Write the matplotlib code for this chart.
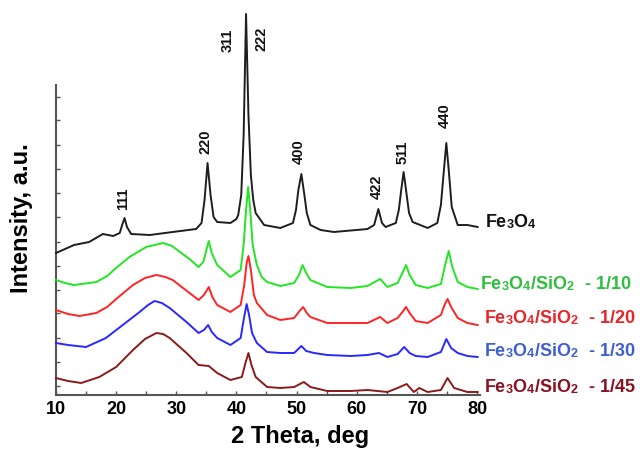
import matplotlib
matplotlib.use("Agg")
import matplotlib.pyplot as plt
try:
    import matplotlib._mathtext as _mt
    _mt.FontConstantsBase.sub1 = 0.12
    _mt.FontConstantsBase.sub2 = 0.15
except Exception:
    pass

plt.rcParams['font.family'] = ['Liberation Sans', 'DejaVu Sans']
plt.rcParams['font.weight'] = 'bold'
plt.rcParams['mathtext.fontset'] = 'custom'
plt.rcParams['mathtext.rm'] = 'Liberation Sans:bold'
plt.rcParams['mathtext.bf'] = 'Liberation Sans:bold'
plt.rcParams['mathtext.it'] = 'Liberation Sans:bold'
plt.rcParams['mathtext.default'] = 'bf'

# ---- data (2theta in deg, intensity in a.u., offset traces) ----
fe3o4_x = [10, 11.5, 13, 15.5, 17.8, 19.5, 20.6, 21.0, 21.4, 21.8, 22.5, 25.6, 29.4, 33.3,
           34.2, 34.7, 35.2, 35.7, 36.2, 36.8, 39.0, 40.0, 40.3, 40.8, 41.2, 41.6, 42.0, 42.4,
           42.8, 43.2, 44.6, 47.3, 49.4, 49.9, 50.3, 50.8, 51.3, 51.7, 52.3, 54.0, 56.2, 61.8,
           62.9, 63.6, 64.2, 64.8, 66.5, 67.0, 67.4, 67.8, 68.2, 68.7, 69.3, 71.8, 73.4, 74.0,
           74.5, 74.9, 75.3, 75.8, 76.8, 78.4, 80.1]
fe3o4_y = [142, 146, 150, 153, 161, 159, 162, 170, 177, 168, 161, 160, 163, 166,
           172, 195, 232, 200, 178, 173, 172, 176, 180, 200, 260, 381, 280, 220,
           195, 182, 170, 167, 172, 185, 205, 221, 200, 182, 170, 165, 163, 166,
           170, 186, 172, 168, 172, 185, 205, 223, 205, 182, 173, 167, 172, 190,
           225, 252, 225, 188, 170, 170, 168]

s10_x = [10, 11.5, 13, 16.7, 18.5, 20, 22.2, 25, 27.8, 29.3, 30.6, 32.2, 33.7, 34.5, 35.0,
         35.4, 35.9, 36.8, 39.0, 40.7, 41.2, 41.6, 41.95, 42.3, 42.7, 43.4, 44.2, 45.1, 47.3,
         49.6, 50.4, 51.0, 51.6, 52.3, 55.1, 59.0, 61.8, 63.9, 65.1, 66.8, 67.6, 68.2, 68.8,
         69.8, 71.8, 74.0, 74.7, 75.3, 75.9, 76.8, 78.4, 80.1]
s10_y = [115, 112, 110, 113, 119, 127, 138, 148, 152, 149, 143, 136, 128, 133, 145,
         154, 142, 130, 118, 125, 150, 185, 208, 185, 150, 130, 118, 113, 109,
         112, 120, 130, 122, 115, 108, 107, 109, 116, 108, 112, 122, 130, 120,
         110, 107, 111, 130, 144, 128, 113, 108, 106]

s20_x = [10, 12, 13.9, 16.7, 18.5, 20, 22.8, 24.8, 26.7, 28.2, 29.4, 32.2, 33.7, 34.6, 35.4,
         36.0, 36.8, 39.0, 40.7, 41.3, 41.7, 42.0, 42.4, 42.9, 43.4, 45.1, 47.3, 49.6, 50.5,
         51.1, 51.7, 52.3, 55.1, 59.0, 61.8, 63.9, 65.1, 66.8, 67.6, 68.2, 68.8, 69.8, 71.8,
         74.0, 74.6, 75.1, 75.7, 76.8, 78.4, 80.1]
s20_y = [85, 81, 79, 82, 88, 96, 110, 117, 120, 118, 115, 102, 95, 100, 108,
         98, 90, 83, 90, 110, 132, 139, 125, 100, 92, 80, 75, 77, 84,
         88, 82, 78, 72, 72, 72, 78, 72, 77, 83, 88, 82, 74, 72,
         80, 90, 96, 88, 77, 72, 70]

s30_x = [10, 12, 15, 18.3, 21.1, 23.9, 25.3, 26.4, 27.6, 28.9, 31.7, 33.7, 34.6, 35.3, 35.9,
         36.8, 39.0, 40.7, 41.2, 41.7, 42.1, 42.6, 43.4, 45.1, 47.3, 49.6, 50.8, 51.6, 52.9,
         55.1, 59.0, 61.8, 63.7, 65.1, 66.8, 67.9, 68.8, 69.8, 71.8, 74.0, 74.9, 75.7, 76.8,
         78.4, 80.1]
s30_y = [52, 50, 48, 57, 70, 83, 90, 94, 92, 87, 73, 62, 65, 70, 63,
         57, 50, 57, 75, 91, 80, 62, 52, 43, 42, 42, 49, 44, 42,
         40, 39, 40, 42, 38, 41, 48, 42, 39, 38, 43, 56, 47, 42,
         39, 38]

s45_x = [10, 12, 14.2, 17.2, 20, 22.8, 24.8, 26.7, 27.8, 28.9, 31.7, 33.7, 35.4, 36.8, 39.0,
         40.9, 41.5, 42.0, 42.5, 43.2, 45.1, 47.3, 49.6, 51.2, 52.3, 55.1, 59.0, 61.8, 65.1,
         66.8, 68.3, 69.5, 70.4, 71.8, 74.0, 75.1, 76.2, 78.4, 80.1]
s45_y = [17, 14, 12, 18, 28, 45, 56, 62, 61, 57, 42, 30, 29, 22, 15,
         18, 32, 42, 30, 18, 8, 7, 8, 13, 8, 4, 4, 5, 3,
         7, 11, 3, 7, 3, 5, 17, 7, 3, 3]

series_labels = [r"Fe$_3$O$_4$", r"Fe$_3$O$_4$/SiO$_2$  - 1/10", r"Fe$_3$O$_4$/SiO$_2$  - 1/20",
                 r"Fe$_3$O$_4$/SiO$_2$  - 1/30", r"Fe$_3$O$_4$/SiO$_2$  - 1/45"]

peak_labels = ["111", "220", "311", "222", "400", "422", "511", "440"]
peak_label_x = [21.1, 34.9, 38.6, 44.25, 50.4, 63.4, 67.7, 74.7]
peak_label_y = [196, 253, 355, 356, 243, 208, 243, 279]

xticks_major = [10, 20, 30, 40, 50, 60, 70, 80]
xticks_minor = [15, 25, 35, 45, 55, 65, 75]
yticks = [9, 33, 57, 82, 105, 129, 153, 178, 202, 226, 250, 275, 298]

# ---- styling ----
line_colors = ['#1e1e1e', '#22e622', '#ff2424', '#2828ff', '#8b1a1a']
text_colors = ['#111111', '#2fbf3f', '#e8262a', '#3f5fd0', '#8b1020']
label_x = [81.3, 80.5, 81.2, 81.2, 81.2]
label_y = [167, 105, 71, 38, 2]

fig = plt.figure(figsize=(6.4, 4.5), dpi=100)
ax = fig.add_axes([56/640, 1-395/450, (480-56)/640, 390/450])

xs = [fe3o4_x, s10_x, s20_x, s30_x, s45_x]
ys = [fe3o4_y, s10_y, s20_y, s30_y, s45_y]
for x, y, c in zip(xs, ys, line_colors):
    ax.plot(x, y, color=c, lw=1.4, clip_on=False, zorder=3)

for lab, lx, ly, c in zip(series_labels, label_x, label_y, text_colors):
    ax.text(lx, ly, lab, color=c, fontsize=13, fontweight='bold', ha='left', va='baseline',
            clip_on=False)

for lab, px, py in zip(peak_labels, peak_label_x, peak_label_y):
    ax.text(px, py, lab, rotation=90, fontsize=10.5, fontweight='bold', ha='center',
            va='center', color='#111111')

ax.set_xlim(10, 80.5)
ax.set_ylim(0, 390)
for s in ['top', 'right']:
    ax.spines[s].set_visible(False)
for s in ['left', 'bottom']:
    ax.spines[s].set_color('#555555')
    ax.spines[s].set_linewidth(1.5)
ax.spines['left'].set_bounds(0, 310)

ax.set_xticks(xticks_major)
ax.set_xticks(xticks_minor, minor=True)
ax.set_xticklabels([str(t) for t in xticks_major], fontsize=13, fontweight='bold')
ax.tick_params(axis='x', which='both', direction='in', length=3, width=1, color='#555555', pad=4)
ax.set_yticks(yticks)
ax.set_yticklabels([])
ax.tick_params(axis='y', direction='in', length=3, width=1, color='#555555')

fig.text(22/640, 1-218/450, "Intensity, a.u.", rotation=90, fontsize=17, fontweight='bold',
         ha='center', va='center')
fig.text(300/640, 1-437/450, "2 Theta, deg", fontsize=17, fontweight='bold',
         ha='center', va='center')

fig.savefig("out.png", dpi=100)
